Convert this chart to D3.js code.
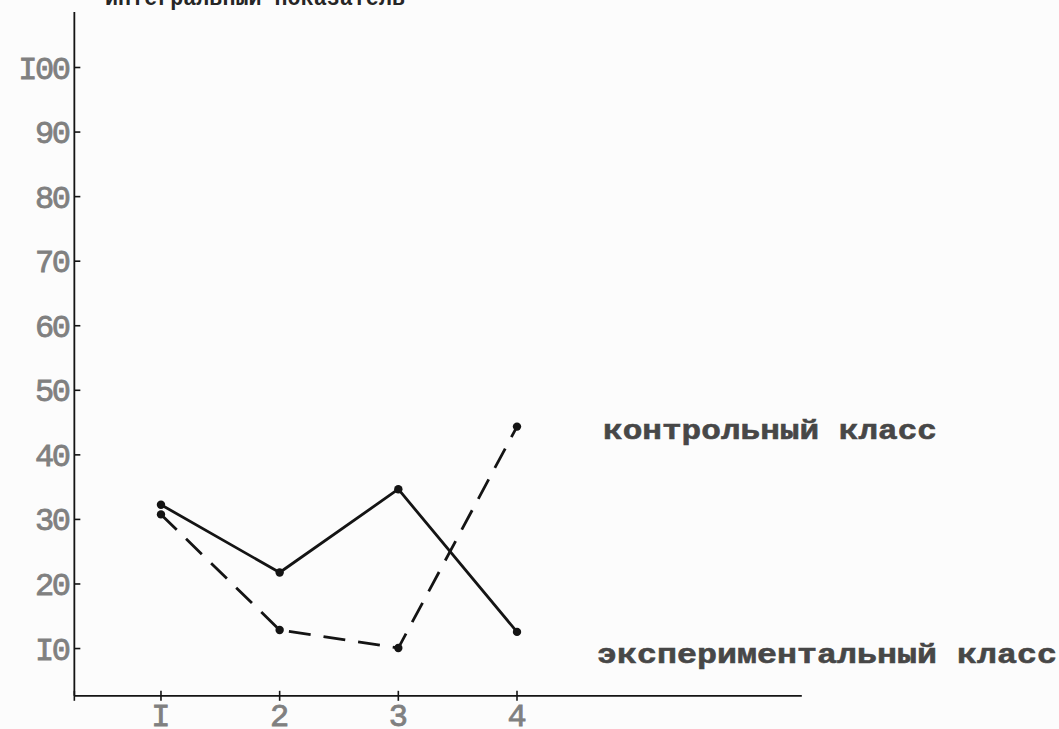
<!DOCTYPE html>
<html>
<head>
<meta charset="utf-8">
<script src="https://cdn.jsdelivr.net/npm/d3@7"></script>
<style>
  html, body { margin: 0; padding: 0; background: #fcfcfc; }
  svg { display: block; }
</style>
</head>
<body>
<svg id="chart" width="1059" height="729"></svg>
<script>
// ---- data ----
const categories = [1, 2, 3, 4];
const yTicks = [10, 20, 30, 40, 50, 60, 70, 80, 90, 100];
const yTickLabels = ["I0", "20", "30", "40", "50", "60", "70", "80", "90", "I00"];
const xTickLabels = ["I", "2", "3", "4"];
const controlValues = [30.7, 12.8, 10.0, 44.3];      // dashed line
const experimentalValues = [32.2, 21.7, 34.6, 12.5]; // solid line
const seriesNames = ["контрольный класс", "экспериментальный класс"];
const title = "интегральный показатель";

// ---- layout ----
const svg = d3.select("#chart");
const x = d3.scaleLinear().domain([0, 4]).range([42.3, 517]);
const y = d3.scaleLinear().domain([0, 100]).range([712.6, 67]);
const xMin = 0.27, xMax = 6.4, yMin = 2.6, yTop = 108.5;

const ink = "#141414";
const mono = "'Liberation Mono', 'DejaVu Sans Mono', monospace";

// title (cut off at top, as in the scan)
svg.append("text")
  .attr("x", 105).attr("y", 5)
  .attr("font-family", mono).attr("font-weight", "bold")
  .attr("font-size", 23).attr("fill", "#262626")
  .attr("textLength", 300).attr("lengthAdjust", "spacingAndGlyphs")
  .text(title);

// y axis
const yAxis = d3.axisRight(y).tickValues(yTicks).tickSize(6).tickFormat("");
const gy = svg.append("g").attr("transform", `translate(${x(xMin)},0)`).call(yAxis);
gy.select(".domain").remove();
gy.selectAll(".tick line").attr("stroke", ink).attr("stroke-width", 1.6);
svg.append("line")
  .attr("x1", x(xMin)).attr("x2", x(xMin))
  .attr("y1", y(yTop)).attr("y2", y(yMin))
  .attr("stroke", ink).attr("stroke-width", 1.8);

svg.append("g").selectAll("text").data(yTicks).join("text")
  .attr("x", x(xMin) - 6)
  .attr("y", d => y(d))
  .attr("dy", "0.36em")
  .attr("text-anchor", "end")
  .attr("font-family", mono)
  .attr("font-size", 32)
  .attr("fill", "#808080")
  .attr("stroke", "#808080").attr("stroke-width", 0.8)
  .attr("letter-spacing", -2.5)
  .text((d, i) => yTickLabels[i]);

// x axis
svg.append("line")
  .attr("x1", x(xMin)).attr("x2", x(xMax))
  .attr("y1", y(yMin)).attr("y2", y(yMin))
  .attr("stroke", ink).attr("stroke-width", 1.8);
svg.append("g").selectAll("line").data([xMin].concat(categories)).join("line")
  .attr("x1", d => x(d)).attr("x2", d => x(d))
  .attr("y1", y(yMin) - 5).attr("y2", y(yMin) + 5)
  .attr("stroke", ink).attr("stroke-width", 1.6);
svg.append("g").selectAll("text").data(categories).join("text")
  .attr("x", d => x(d))
  .attr("y", y(yMin) + 30)
  .attr("text-anchor", "middle")
  .attr("font-family", mono)
  .attr("font-size", 32)
  .attr("fill", "#808080")
  .attr("stroke", "#808080").attr("stroke-width", 0.8)
  .text((d, i) => xTickLabels[i]);

// series
const line = d3.line().x((d, i) => x(categories[i])).y(d => y(d));
svg.append("path").datum(experimentalValues)
  .attr("d", line).attr("fill", "none")
  .attr("stroke", ink).attr("stroke-width", 2.8).attr("stroke-linejoin", "round");
svg.append("path").datum(controlValues)
  .attr("d", line).attr("fill", "none")
  .attr("stroke", ink).attr("stroke-width", 2.8)
  .attr("stroke-dasharray", "22,13");

[experimentalValues, controlValues].forEach(vals => {
  svg.append("g").selectAll("circle").data(vals).join("circle")
    .attr("cx", (d, i) => x(categories[i]))
    .attr("cy", d => y(d))
    .attr("r", 4.2)
    .attr("fill", ink);
});

// series labels
const labelX = [603, 597];
const labelVal = [42.4, 7.7];
const labelLen = [334, 460];
seriesNames.forEach((name, i) => {
  svg.append("text")
    .attr("x", labelX[i]).attr("y", y(labelVal[i]))
    .attr("font-family", mono).attr("font-weight", "bold")
    .attr("font-size", 28).attr("fill", "#474747")
    .attr("stroke", "#474747").attr("stroke-width", 0.6)
    .attr("textLength", labelLen[i]).attr("lengthAdjust", "spacingAndGlyphs")
    .text(name);
});
</script>
</body>
</html>
